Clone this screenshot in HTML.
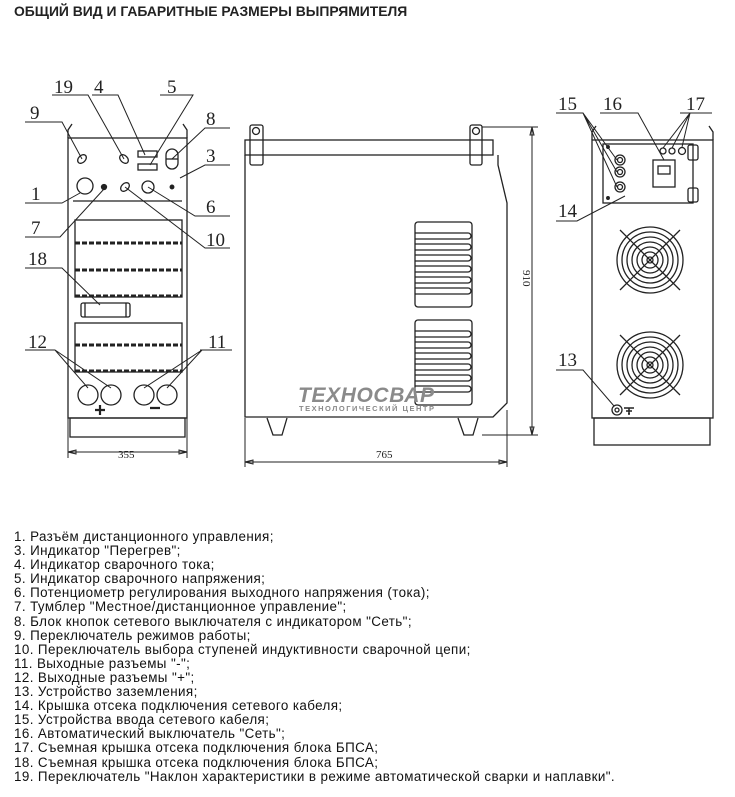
<!DOCTYPE html>
<html><head><meta charset="utf-8"><style>
body{margin:0;background:#fff;width:735px;height:797px;overflow:hidden;position:relative}
.t{position:absolute;left:14px;top:3px;font:bold 13.9px "Liberation Sans","Noto Sans CJK SC",sans-serif;color:#222}
.l{position:absolute;left:14px;top:530px;font:13.4px "Liberation Sans","Noto Sans CJK SC",sans-serif;letter-spacing:0.4px;color:#111;white-space:nowrap}
.l div{height:14.1px;line-height:14.1px}
svg{position:absolute;left:0;top:0}
</style></head><body>
<div class="t">ОБЩИЙ ВИД И ГАБАРИТНЫЕ РАЗМЕРЫ ВЫПРЯМИТЕЛЯ</div>
<svg width="735" height="520" viewBox="0 0 735 520" font-family="Liberation Serif,serif" font-size="18" fill="none" stroke="#222" stroke-width="1.3">
<rect x="68" y="138" width="119" height="280"/>
<rect x="70" y="418" width="115" height="19"/>
<path d="M68 138 L68 130 L72 124 M187 138 L187 130 L183 124"/>
<ellipse cx="82" cy="159" rx="5" ry="3.5" transform="rotate(-45 82 159)"/>
<ellipse cx="124" cy="159" rx="5" ry="3.5" transform="rotate(45 124 159)"/>
<rect x="138" y="151" width="19" height="6"/><rect x="138" y="164" width="19" height="6"/>
<rect x="166" y="149" width="12" height="20" rx="6"/><line x1="166" y1="159" x2="178" y2="159"/>
<circle cx="85" cy="186" r="8"/><circle cx="104" cy="187" r="2.5" fill="#222"/>
<ellipse cx="125" cy="187" rx="5" ry="3.5" transform="rotate(-45 125 187)"/>
<circle cx="148" cy="187" r="6"/><circle cx="172" cy="187" r="1.8" fill="#222"/>
<line x1="73" y1="201" x2="182" y2="201"/>
<g>
<rect x="75" y="220" width="107" height="77"/>
<line x1="75" y1="243" x2="182" y2="243" stroke-width="3" stroke-dasharray="5 2"/>
<line x1="75" y1="270" x2="182" y2="270" stroke-width="3" stroke-dasharray="5 2"/>
<line x1="75" y1="296" x2="182" y2="296" stroke-width="3" stroke-dasharray="5 2"/>
<rect x="81" y="303" width="49" height="14" rx="2"/><line x1="85" y1="303" x2="85" y2="317"/><line x1="126" y1="303" x2="126" y2="317"/>
<rect x="75" y="323" width="107" height="49"/>
<line x1="75" y1="345" x2="182" y2="345" stroke-width="3" stroke-dasharray="5 2"/>
<line x1="75" y1="371" x2="182" y2="371" stroke-width="3" stroke-dasharray="5 2"/>
</g>
<circle cx="88" cy="395" r="10"/><circle cx="111" cy="395" r="10"/><circle cx="144" cy="395" r="10"/><circle cx="167" cy="395" r="10"/>
<path d="M95 410 h10 M100 405 v10 M150 408 h10" stroke-width="2.2"/>
<path d="M68 418 V458 M187 418 V458 M68 452 H187 M68 452 l8 -2 v4 z M187 452 l-8 -2 v4 z" stroke-width="1"/>
<g stroke-width="1">
<path d="M25 122 H62 L82 159"/><path d="M52 95 H88 L124 159"/><path d="M92 95 H118 L145 155"/><path d="M160 95 H193 L150 165"/>
<path d="M172 159 L205 128 H230"/><path d="M180 178 L205 165 H230"/><path d="M25 203 H62 L80 193"/>
<path d="M25 237 H60 L104 189"/><path d="M148 187 L195 216 H230"/><path d="M125 187 L205 248 H230"/>
<path d="M25 268 H62 L100 305"/><path d="M25 350 H55 L88 388 M55 350 L111 388"/><path d="M200 350 H232 M202 350 L144 388 M202 350 L167 388"/>
</g>
<g fill="#222" stroke="none" font-size="19">
<text x="30" y="119">9</text><text x="54" y="93">19</text><text x="94" y="93">4</text><text x="167" y="93">5</text>
<text x="206" y="125">8</text><text x="206" y="162">3</text><text x="31" y="200">1</text><text x="31" y="234">7</text>
<text x="206" y="213">6</text><text x="206" y="246">10</text><text x="28" y="265">18</text><text x="28" y="348">12</text><text x="208" y="348">11</text>
<text x="118" y="458" font-size="11">355</text>
</g>
<rect x="245" y="140" width="248" height="15"/>
<rect x="250" y="125" width="13" height="40" rx="2"/><circle cx="256" cy="131" r="3.5"/>
<rect x="470" y="125" width="12" height="40" rx="2"/><circle cx="476" cy="131" r="3.5"/>
<path d="M245 155 V417 H493 L507 403 V203 L498 165 V155"/>
<path d="M267 418 L273 435 H282 L287 418 M458 418 L464 435 H473 L478 418"/>
<g>
<rect x="415" y="222" width="57" height="85" rx="3"/>
<path d="M415 233 H468 a3 3 0 0 1 0 6 H415 M415 244 H468 a3 3 0 0 1 0 6 H415 M415 255 H468 a3 3 0 0 1 0 6 H415 M415 266 H468 a3 3 0 0 1 0 6 H415 M415 277 H468 a3 3 0 0 1 0 6 H415 M415 288 H468 a3 3 0 0 1 0 6 H415"/>
<rect x="415" y="320" width="57" height="85" rx="3"/>
<path d="M415 331 H468 a3 3 0 0 1 0 6 H415 M415 342 H468 a3 3 0 0 1 0 6 H415 M415 353 H468 a3 3 0 0 1 0 6 H415 M415 364 H468 a3 3 0 0 1 0 6 H415 M415 375 H468 a3 3 0 0 1 0 6 H415 M415 386 H468 a3 3 0 0 1 0 6 H415"/>
</g>
<text x="298" y="402" fill="#8a8a8a" stroke="none" font-family="Liberation Sans,sans-serif" font-weight="bold" font-style="italic" font-size="21" textLength="136">ТЕХНОСВАР</text>
<text x="299" y="411" fill="#8a8a8a" stroke="none" font-family="Liberation Sans,sans-serif" font-weight="bold" font-size="7.5" textLength="135">ТЕХНОЛОГИЧЕСКИЙ ЦЕНТР</text>
<path d="M482 127 H538 M482 435 H538 M532 127 V435 M532 127 l-2 8 h4 z M532 435 l-2 -8 h4 z M245 418 V467 M507 410 V467 M245 462 H507 M245 462 l8 -2 v4 z M507 462 l-8 -2 v4 z" stroke-width="1"/>
<text x="0" y="0" fill="#222" stroke="none" font-size="11" transform="translate(523,270) rotate(90)">910</text>
<text x="376" y="458" fill="#222" stroke="none" font-size="11">765</text>
<rect x="592" y="140" width="121" height="278"/>
<rect x="594" y="418" width="116" height="27"/>
<path d="M592 140 V132 L596 126 M713 140 V132 L709 126"/>
<rect x="603" y="144" width="90" height="59"/>
<circle cx="620" cy="160" r="5"/><circle cx="620" cy="160" r="2.5"/><circle cx="620" cy="172" r="5"/><circle cx="620" cy="172" r="2.5"/><circle cx="620" cy="187" r="5"/><circle cx="620" cy="187" r="2.5"/>
<circle cx="608" cy="147" r="1.3" fill="#222"/><circle cx="608" cy="198" r="1.3" fill="#222"/>
<rect x="653" y="160" width="22" height="27"/><rect x="658" y="166" width="12" height="8"/>
<circle cx="663" cy="151" r="3"/><circle cx="672" cy="151" r="3"/><circle cx="682" cy="151" r="3.5"/>
<rect x="688" y="145" width="10" height="15" rx="2"/><rect x="688" y="188" width="10" height="14" rx="2"/>
<g>
<circle cx="650" cy="260" r="33"/><circle cx="650" cy="260" r="28"/><circle cx="650" cy="260" r="23"/><circle cx="650" cy="260" r="18"/><circle cx="650" cy="260" r="13"/><circle cx="650" cy="260" r="8"/><circle cx="650" cy="260" r="3"/>
<path d="M620 230 L680 290 M680 230 L620 290"/>
<circle cx="650" cy="365" r="33"/><circle cx="650" cy="365" r="28"/><circle cx="650" cy="365" r="23"/><circle cx="650" cy="365" r="18"/><circle cx="650" cy="365" r="13"/><circle cx="650" cy="365" r="8"/><circle cx="650" cy="365" r="3"/>
<path d="M620 335 L680 395 M680 335 L620 395"/>
</g>
<circle cx="617" cy="410" r="5"/><circle cx="617" cy="410" r="2"/>
<path d="M624 408 h10 M629 408 v6 M626 411 h6 M628 414 h2" stroke-width="1.5"/>
<g stroke-width="1">
<path d="M556 113 H583 L617 160 M583 113 L617 172 M583 113 L617 187"/>
<path d="M600 113 H638 L664 160"/>
<path d="M680 113 H712 M690 113 L663 148 M690 113 L672 148 M690 113 L682 147"/>
<path d="M556 221 H577 L625 196"/>
<path d="M556 370 H583 L614 406"/>
</g>
<g fill="#222" stroke="none" font-size="19">
<text x="558" y="110">15</text><text x="603" y="110">16</text><text x="686" y="110">17</text><text x="558" y="217">14</text><text x="558" y="366">13</text>
</g>
</svg>
<div class="l">
<div>1. Разъём дистанционного управления;</div>
<div>3. Индикатор "Перегрев";</div>
<div>4. Индикатор сварочного тока;</div>
<div>5. Индикатор сварочного напряжения;</div>
<div>6. Потенциометр регулирования выходного напряжения (тока);</div>
<div>7. Тумблер "Местное/дистанционное управление";</div>
<div>8. Блок кнопок сетевого выключателя с индикатором "Сеть";</div>
<div>9. Переключатель режимов работы;</div>
<div>10. Переключатель выбора ступеней индуктивности сварочной цепи;</div>
<div>11. Выходные разъемы "-";</div>
<div>12. Выходные разъемы "+";</div>
<div>13. Устройство заземления;</div>
<div>14. Крышка отсека подключения сетевого кабеля;</div>
<div>15. Устройства ввода сетевого кабеля;</div>
<div>16. Автоматический выключатель "Сеть";</div>
<div>17. Съемная крышка отсека подключения блока БПСА;</div>
<div>18. Съемная крышка отсека подключения блока БПСА;</div>
<div>19. Переключатель "Наклон характеристики в режиме автоматической сварки и наплавки".</div>
</div>
</body></html>
